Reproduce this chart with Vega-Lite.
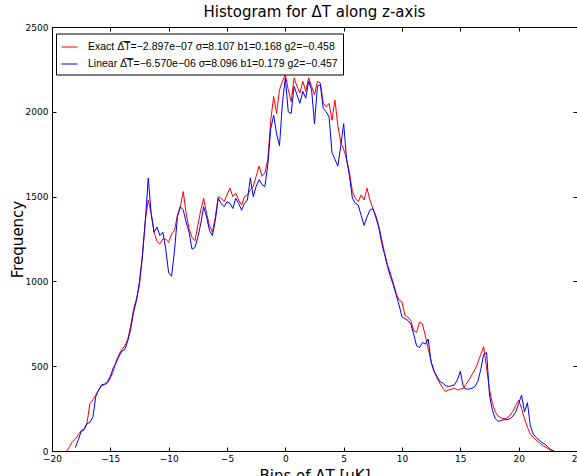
{
  "$schema": "https://vega.github.io/schema/vega-lite/v6.json",
  "autosize": "none",
  "width": 525,
  "height": 424,
  "padding": {"left": 52, "top": 27, "right": 0, "bottom": 25},
  "background": "white",
  "title": {"text": "Histogram for ΔT along z-axis", "font": "DejaVu Sans", "fontSize": 15, "fontWeight": "normal", "color": "black", "offset": 3, "anchor": "middle"},
  "config": {
    "view": {"stroke": "black", "strokeWidth": 1},
    "axis": {"domainColor": "black", "tickColor": "black", "labelColor": "black", "titleColor": "black", "grid": false, "labelFont": "DejaVu Sans", "labelFontSize": 9, "titleFont": "DejaVu Sans", "titleFontSize": 15, "titleFontWeight": "normal", "tickSize": -4, "labelPadding": 7, "labelFlush": false, "labelOverlap": false, "labelBound": false},
    "legend": {"orient": "none", "legendX": 4, "legendY": 6.5, "strokeColor": "black", "fillColor": "white", "padding": 5, "symbolType": "stroke", "symbolSize": 256, "symbolStrokeWidth": 1, "labelFont": "Liberation Sans", "labelFontSize": 10.5, "labelColor": "black", "labelOffset": 10, "labelLimit": 0, "rowPadding": 3, "cornerRadius": 0}
  },
  "datasets": {
    "exact": [
      {"x":-18.75,"y":0},{"x":-18.5,"y":25},{"x":-18.25,"y":55},{"x":-18.0,"y":70},{"x":-17.75,"y":95},{"x":-17.5,"y":120},{"x":-17.25,"y":130},{"x":-17.0,"y":165},{"x":-16.75,"y":280},{"x":-16.5,"y":300},{"x":-16.25,"y":330},{"x":-16.0,"y":360},{"x":-15.75,"y":385},{"x":-15.5,"y":390},{"x":-15.25,"y":400},{"x":-15.0,"y":430},{"x":-14.75,"y":470},{"x":-14.5,"y":530},{"x":-14.25,"y":570},{"x":-14.0,"y":600},{"x":-13.75,"y":620},{"x":-13.5,"y":660},{"x":-13.25,"y":740},{"x":-13.0,"y":840},{"x":-12.75,"y":900},{"x":-12.5,"y":980},{"x":-12.25,"y":1150},{"x":-12.0,"y":1360},{"x":-11.75,"y":1480},{"x":-11.5,"y":1400},{"x":-11.25,"y":1290},{"x":-11.0,"y":1235},{"x":-10.75,"y":1220},{"x":-10.5,"y":1250},{"x":-10.25,"y":1250},{"x":-10.0,"y":1230},{"x":-9.75,"y":1280},{"x":-9.5,"y":1300},{"x":-9.25,"y":1390},{"x":-9.0,"y":1440},{"x":-8.75,"y":1530},{"x":-8.5,"y":1400},{"x":-8.25,"y":1310},{"x":-8.0,"y":1260},{"x":-7.75,"y":1240},{"x":-7.5,"y":1330},{"x":-7.25,"y":1420},{"x":-7.0,"y":1490},{"x":-6.75,"y":1400},{"x":-6.5,"y":1330},{"x":-6.25,"y":1290},{"x":-6.0,"y":1380},{"x":-5.75,"y":1500},{"x":-5.5,"y":1490},{"x":-5.25,"y":1470},{"x":-5.0,"y":1510},{"x":-4.75,"y":1550},{"x":-4.5,"y":1500},{"x":-4.25,"y":1520},{"x":-4.0,"y":1480},{"x":-3.75,"y":1450},{"x":-3.5,"y":1500},{"x":-3.25,"y":1510},{"x":-3.0,"y":1540},{"x":-2.75,"y":1560},{"x":-2.5,"y":1620},{"x":-2.25,"y":1680},{"x":-2.0,"y":1620},{"x":-1.75,"y":1640},{"x":-1.5,"y":1720},{"x":-1.25,"y":1950},{"x":-1.0,"y":2090},{"x":-0.75,"y":1990},{"x":-0.5,"y":2130},{"x":-0.25,"y":2180},{"x":0.0,"y":2220},{"x":0.25,"y":2130},{"x":0.5,"y":2060},{"x":0.75,"y":2200},{"x":1.0,"y":2150},{"x":1.25,"y":2110},{"x":1.5,"y":2180},{"x":1.75,"y":2120},{"x":2.0,"y":2200},{"x":2.25,"y":2150},{"x":2.5,"y":2100},{"x":2.75,"y":2180},{"x":3.0,"y":2170},{"x":3.25,"y":2050},{"x":3.5,"y":2030},{"x":3.75,"y":2050},{"x":4.0,"y":1950},{"x":4.25,"y":2070},{"x":4.5,"y":1920},{"x":4.75,"y":1820},{"x":5.0,"y":1780},{"x":5.25,"y":1720},{"x":5.5,"y":1640},{"x":5.75,"y":1530},{"x":6.0,"y":1490},{"x":6.25,"y":1470},{"x":6.5,"y":1510},{"x":6.75,"y":1480},{"x":7.0,"y":1550},{"x":7.25,"y":1480},{"x":7.5,"y":1430},{"x":7.75,"y":1390},{"x":8.0,"y":1330},{"x":8.25,"y":1250},{"x":8.5,"y":1170},{"x":8.75,"y":1100},{"x":9.0,"y":1050},{"x":9.25,"y":990},{"x":9.5,"y":930},{"x":9.75,"y":890},{"x":10.0,"y":880},{"x":10.25,"y":800},{"x":10.5,"y":790},{"x":10.75,"y":770},{"x":11.0,"y":710},{"x":11.25,"y":700},{"x":11.5,"y":760},{"x":11.75,"y":750},{"x":12.0,"y":680},{"x":12.25,"y":600},{"x":12.5,"y":530},{"x":12.75,"y":470},{"x":13.0,"y":430},{"x":13.25,"y":400},{"x":13.5,"y":370},{"x":13.75,"y":350},{"x":14.0,"y":360},{"x":14.25,"y":365},{"x":14.5,"y":370},{"x":14.75,"y":360},{"x":15.0,"y":365},{"x":15.25,"y":370},{"x":15.5,"y":395},{"x":15.75,"y":420},{"x":16.0,"y":450},{"x":16.25,"y":480},{"x":16.5,"y":520},{"x":16.75,"y":570},{"x":17.0,"y":615},{"x":17.25,"y":490},{"x":17.5,"y":360},{"x":17.75,"y":280},{"x":18.0,"y":230},{"x":18.25,"y":205},{"x":18.5,"y":195},{"x":18.75,"y":190},{"x":19.0,"y":195},{"x":19.25,"y":210},{"x":19.5,"y":235},{"x":19.75,"y":270},{"x":20.0,"y":300},{"x":20.25,"y":250},{"x":20.5,"y":190},{"x":20.75,"y":140},{"x":21.0,"y":100},{"x":21.25,"y":80},{"x":21.5,"y":65},{"x":21.75,"y":50},{"x":22.0,"y":35},{"x":22.25,"y":25},{"x":22.5,"y":15},{"x":22.75,"y":5},{"x":23.0,"y":0}
    ],
    "linear": [
      {"x":-18.0,"y":20},{"x":-17.75,"y":65},{"x":-17.5,"y":115},{"x":-17.25,"y":125},{"x":-17.0,"y":160},{"x":-16.75,"y":170},{"x":-16.5,"y":200},{"x":-16.25,"y":320},{"x":-16.0,"y":360},{"x":-15.75,"y":390},{"x":-15.5,"y":395},{"x":-15.25,"y":410},{"x":-15.0,"y":440},{"x":-14.75,"y":490},{"x":-14.5,"y":520},{"x":-14.25,"y":560},{"x":-14.0,"y":590},{"x":-13.75,"y":600},{"x":-13.5,"y":650},{"x":-13.25,"y":720},{"x":-13.0,"y":820},{"x":-12.75,"y":890},{"x":-12.5,"y":1000},{"x":-12.25,"y":1150},{"x":-12.0,"y":1360},{"x":-11.75,"y":1610},{"x":-11.5,"y":1400},{"x":-11.25,"y":1290},{"x":-11.0,"y":1320},{"x":-10.75,"y":1270},{"x":-10.5,"y":1290},{"x":-10.25,"y":1190},{"x":-10.0,"y":1050},{"x":-9.75,"y":1030},{"x":-9.5,"y":1180},{"x":-9.25,"y":1380},{"x":-9.0,"y":1440},{"x":-8.75,"y":1420},{"x":-8.5,"y":1350},{"x":-8.25,"y":1290},{"x":-8.0,"y":1190},{"x":-7.75,"y":1200},{"x":-7.5,"y":1260},{"x":-7.25,"y":1340},{"x":-7.0,"y":1440},{"x":-6.75,"y":1380},{"x":-6.5,"y":1300},{"x":-6.25,"y":1270},{"x":-6.0,"y":1360},{"x":-5.75,"y":1490},{"x":-5.5,"y":1460},{"x":-5.25,"y":1440},{"x":-5.0,"y":1470},{"x":-4.75,"y":1460},{"x":-4.5,"y":1430},{"x":-4.25,"y":1490},{"x":-4.0,"y":1460},{"x":-3.75,"y":1420},{"x":-3.5,"y":1460},{"x":-3.25,"y":1480},{"x":-3.0,"y":1610},{"x":-2.75,"y":1500},{"x":-2.5,"y":1560},{"x":-2.25,"y":1600},{"x":-2.0,"y":1570},{"x":-1.75,"y":1560},{"x":-1.5,"y":1690},{"x":-1.25,"y":1900},{"x":-1.0,"y":1980},{"x":-0.75,"y":1870},{"x":-0.5,"y":1800},{"x":-0.25,"y":2050},{"x":0.0,"y":2200},{"x":0.25,"y":2000},{"x":0.5,"y":1990},{"x":0.75,"y":2150},{"x":1.0,"y":2100},{"x":1.25,"y":2050},{"x":1.5,"y":2120},{"x":1.75,"y":2080},{"x":2.0,"y":2180},{"x":2.25,"y":2130},{"x":2.5,"y":1930},{"x":2.75,"y":2150},{"x":3.0,"y":2160},{"x":3.25,"y":2020},{"x":3.5,"y":2000},{"x":3.75,"y":1970},{"x":4.0,"y":1760},{"x":4.25,"y":1720},{"x":4.5,"y":1680},{"x":4.75,"y":1800},{"x":5.0,"y":1930},{"x":5.25,"y":1720},{"x":5.5,"y":1620},{"x":5.75,"y":1490},{"x":6.0,"y":1460},{"x":6.25,"y":1450},{"x":6.5,"y":1390},{"x":6.75,"y":1330},{"x":7.0,"y":1380},{"x":7.25,"y":1420},{"x":7.5,"y":1430},{"x":7.75,"y":1380},{"x":8.0,"y":1320},{"x":8.25,"y":1230},{"x":8.5,"y":1160},{"x":8.75,"y":1090},{"x":9.0,"y":1030},{"x":9.25,"y":980},{"x":9.5,"y":920},{"x":9.75,"y":860},{"x":10.0,"y":790},{"x":10.25,"y":780},{"x":10.5,"y":770},{"x":10.75,"y":750},{"x":11.0,"y":690},{"x":11.25,"y":620},{"x":11.5,"y":610},{"x":11.75,"y":640},{"x":12.0,"y":630},{"x":12.25,"y":660},{"x":12.5,"y":520},{"x":12.75,"y":470},{"x":13.0,"y":440},{"x":13.25,"y":410},{"x":13.5,"y":400},{"x":13.75,"y":385},{"x":14.0,"y":380},{"x":14.25,"y":385},{"x":14.5,"y":390},{"x":14.75,"y":420},{"x":15.0,"y":470},{"x":15.25,"y":380},{"x":15.5,"y":365},{"x":15.75,"y":365},{"x":16.0,"y":370},{"x":16.25,"y":380},{"x":16.5,"y":410},{"x":16.75,"y":480},{"x":17.0,"y":570},{"x":17.25,"y":580},{"x":17.5,"y":330},{"x":17.75,"y":240},{"x":18.0,"y":190},{"x":18.25,"y":175},{"x":18.5,"y":180},{"x":18.75,"y":185},{"x":19.0,"y":185},{"x":19.25,"y":190},{"x":19.5,"y":205},{"x":19.75,"y":230},{"x":20.0,"y":280},{"x":20.25,"y":330},{"x":20.5,"y":230},{"x":20.75,"y":285},{"x":21.0,"y":150},{"x":21.25,"y":100},{"x":21.5,"y":80},{"x":21.75,"y":65},{"x":22.0,"y":50},{"x":22.25,"y":40},{"x":22.5,"y":25},{"x":22.75,"y":8},{"x":23.0,"y":0}
    ]
  },
  "layer": [
    {
      "data": {"name": "exact"},
      "mark": {"type": "line", "strokeWidth": 1, "interpolate": "linear", "clip": true},
      "encoding": {
        "x": {"field": "x", "type": "quantitative", "scale": {"domain": [-20, 25], "nice": false, "zero": false}, "axis": {"orient": "bottom", "values": [-20,-15,-10,-5,0,5,10,15,20,25], "title": "Bins of ΔT [μK]", "titlePadding": 5}},
        "y": {"field": "y", "type": "quantitative", "scale": {"domain": [0, 2500], "nice": false}, "axis": {"orient": "left", "values": [0,500,1000,1500,2000,2500], "format": "d", "title": "Frequency", "titlePadding": 0, "labelPadding": 8}},
        "color": {"datum": "Exact", "type": "nominal", "scale": {"domain": ["Exact", "Linear"], "range": ["#ff0000", "#0000ff"]}, "legend": {"title": null, "labelExpr": "datum.label == 'Exact' ? 'Exact Δ̅T̅=−2.897e−07 σ=8.107 b1=0.168 g2=−0.458' : 'Linear Δ̅T̅=−6.570e−06 σ=8.096 b1=0.179 g2=−0.457'"}}
      }
    },
    {
      "data": {"name": "linear"},
      "mark": {"type": "line", "strokeWidth": 1, "interpolate": "linear", "clip": true},
      "encoding": {
        "x": {"field": "x", "type": "quantitative", "axis": {"orient": "top", "values": [-20,-15,-10,-5,0,5,10,15,20,25], "labels": false, "title": null}},
        "y": {"field": "y", "type": "quantitative", "axis": {"orient": "right", "values": [0,500,1000,1500,2000,2500], "labels": false, "title": null}},
        "color": {"datum": "Linear", "type": "nominal"}
      }
    }
  ],
  "resolve": {"axis": {"x": "independent", "y": "independent"}}
}
